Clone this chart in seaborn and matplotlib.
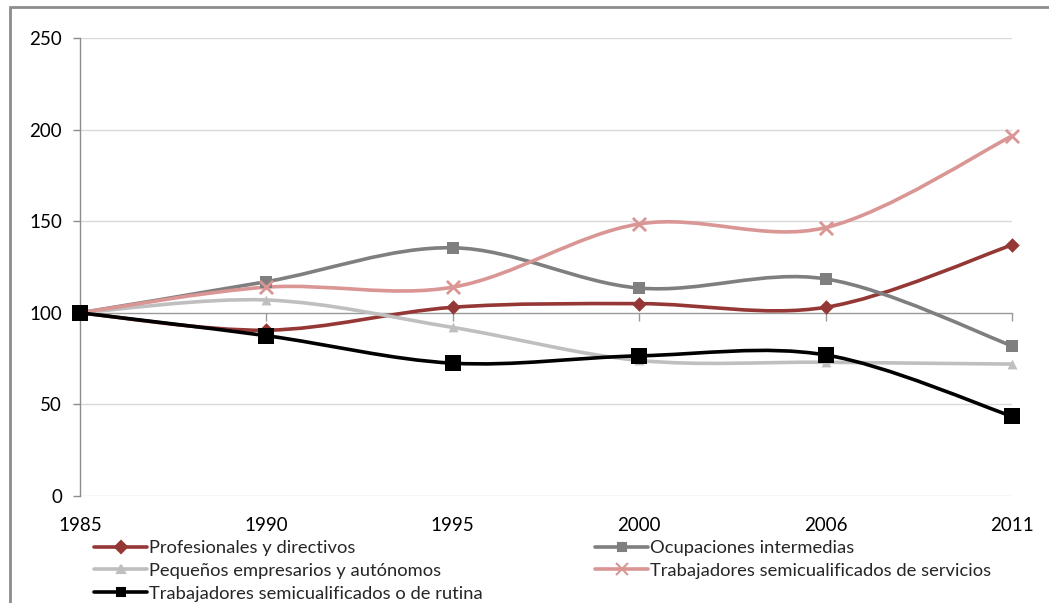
import numpy as np
import pandas as pd
import matplotlib
matplotlib.use("Agg")
import matplotlib.pyplot as plt
from matplotlib.path import Path
from matplotlib.patches import PathPatch, Rectangle
from matplotlib.lines import Line2D
import seaborn as sns

# ---- data (index, 1985 = 100) ----
years = ["1985", "1990", "1995", "2000", "2006", "2011"]
profesionales = [100, 90.5, 103, 105, 103, 137]
intermedias = [100, 117, 135.5, 113.5, 118.5, 82]
pequenos = [100, 107, 92, 74, 73, 72]
servicios = [100, 114, 114, 148.5, 146.5, 196.5]
rutina = [100, 87.5, 72.5, 76.5, 77, 43.5]

series_names = [
    "Profesionales y directivos",
    "Ocupaciones intermedias",
    "Pequeños empresarios y autónomos",
    "Trabajadores semicualificados de servicios",
    "Trabajadores semicualificados o de rutina",
]
series_values = [profesionales, intermedias, pequenos, servicios, rutina]
colors = ["#953735", "#7F7F7F", "#BFBFBF", "#D99694", "#000000"]
markers = ["D", "s", "^", "x", "s"]
marker_sizes = [55, 70, 50, 90, 120]

sns.set_theme(style="white")
plt.rcParams["font.family"] = ["Lato", "DejaVu Sans"]

pos = np.arange(len(years))
rows = []
for name, vals in zip(series_names, series_values):
    for p, y, v in zip(pos, years, vals):
        rows.append({"serie": name, "pos": p, "year": y, "value": v})
df = pd.DataFrame(rows)

fig = plt.figure(figsize=(10.49, 6.03), dpi=100)
ax = fig.add_axes([80 / 1049, 1 - 496 / 603, (1012 - 80) / 1049, (496 - 38) / 603])

# outer chart frame
fig.patches.append(Rectangle((10 / 1049, -0.05), 1.2, 1 - 7 / 603 + 0.05,
                             transform=fig.transFigure, fill=False,
                             edgecolor="#8C8C8C", linewidth=2.0, zorder=0))


def smooth_path(xs, ys):
    """Cubic Bezier through the points, tangents from neighbouring points."""
    pts = np.column_stack([xs, ys]).astype(float)
    n = len(pts)
    verts = [pts[0]]
    codes = [Path.MOVETO]
    for i in range(n - 1):
        p_prev = pts[i - 1] if i > 0 else pts[i]
        p_next2 = pts[i + 2] if i + 2 < n else pts[i + 1]
        c1 = pts[i] + (pts[i + 1] - p_prev) / 6.0
        c2 = pts[i + 1] - (p_next2 - pts[i]) / 6.0
        verts += [c1, c2, pts[i + 1]]
        codes += [Path.CURVE4] * 3
    return Path(verts, codes)


# gridlines
for g in [0, 50, 150, 200, 250]:
    ax.axhline(g, color="#D9D9D9", linewidth=1.0, zorder=0)

for i, (name, color) in enumerate(zip(series_names, colors)):
    sub = df[df["serie"] == name]
    patch = PathPatch(smooth_path(sub["pos"], sub["value"]), facecolor="none",
                      edgecolor=color, linewidth=2.6, zorder=3 + i,
                      capstyle="round", joinstyle="round")
    patch.set_clip_on(False)
    ax.add_patch(patch)

for i, (name, color, m, ms) in enumerate(zip(series_names, colors, markers, marker_sizes)):
    sub = df[df["serie"] == name]
    kw = dict(linewidth=0) if m != "x" else dict(linewidth=2.0)
    sns.scatterplot(data=sub, x="pos", y="value", ax=ax, color=color, marker=m,
                    s=ms, zorder=10 + i, clip_on=False, legend=False,
                    edgecolor=color if m != "x" else None, **kw)

ax.set_xlim(0, len(years) - 1)
ax.set_ylim(0, 250)
ax.set_xlabel("")
ax.set_ylabel("")

# axes: vertical axis at left, horizontal axis crossing at 100
for s in ["top", "right"]:
    ax.spines[s].set_visible(False)
ax.spines["left"].set_color("#8C8C8C")
ax.spines["left"].set_linewidth(1.0)
ax.spines["bottom"].set_position(("data", 100))
ax.spines["bottom"].set_color("#9A9A9A")
ax.spines["bottom"].set_linewidth(1.0)
ax.spines["bottom"].set_zorder(2)

ax.set_yticks([0, 50, 100, 150, 200, 250])
ax.tick_params(axis="y", direction="out", length=5, width=1, color="#8C8C8C",
               labelsize=13.5, labelcolor="#000000", pad=8, left=True)
ax.set_xticks(pos)
ax.tick_params(axis="x", direction="out", length=6, width=1, color="#9A9A9A",
               labelbottom=False, bottom=True)

sec = ax.secondary_xaxis("bottom")
sec.set_xticks(pos)
sec.set_xticklabels(years)
sec.spines["bottom"].set_visible(False)
sec.tick_params(axis="x", length=0, labelsize=13.5, pad=15, labelcolor="#000000")

# legend in two blocks
handles = [Line2D([0], [0], color=c, linewidth=2.6, marker=m,
                  markersize=6 if m != "x" else 8, markeredgewidth=1.5,
                  markerfacecolor=c, markeredgecolor=c)
           for c, m in zip(colors, markers)]
leg_kw = dict(frameon=False, fontsize=13.2, handlelength=2.9, handletextpad=0.12,
              labelspacing=0.37, borderpad=0, borderaxespad=0, loc="upper left")
fig.legend([handles[0], handles[2], handles[4]],
           [series_names[0], series_names[2], series_names[4]],
           bbox_to_anchor=(94 / 1049, 1 - 540 / 603), **leg_kw)
fig.legend([handles[1], handles[3]],
           [series_names[1], series_names[3]],
           bbox_to_anchor=(595 / 1049, 1 - 540 / 603), **leg_kw)

fig.savefig("out.png", dpi=100)
